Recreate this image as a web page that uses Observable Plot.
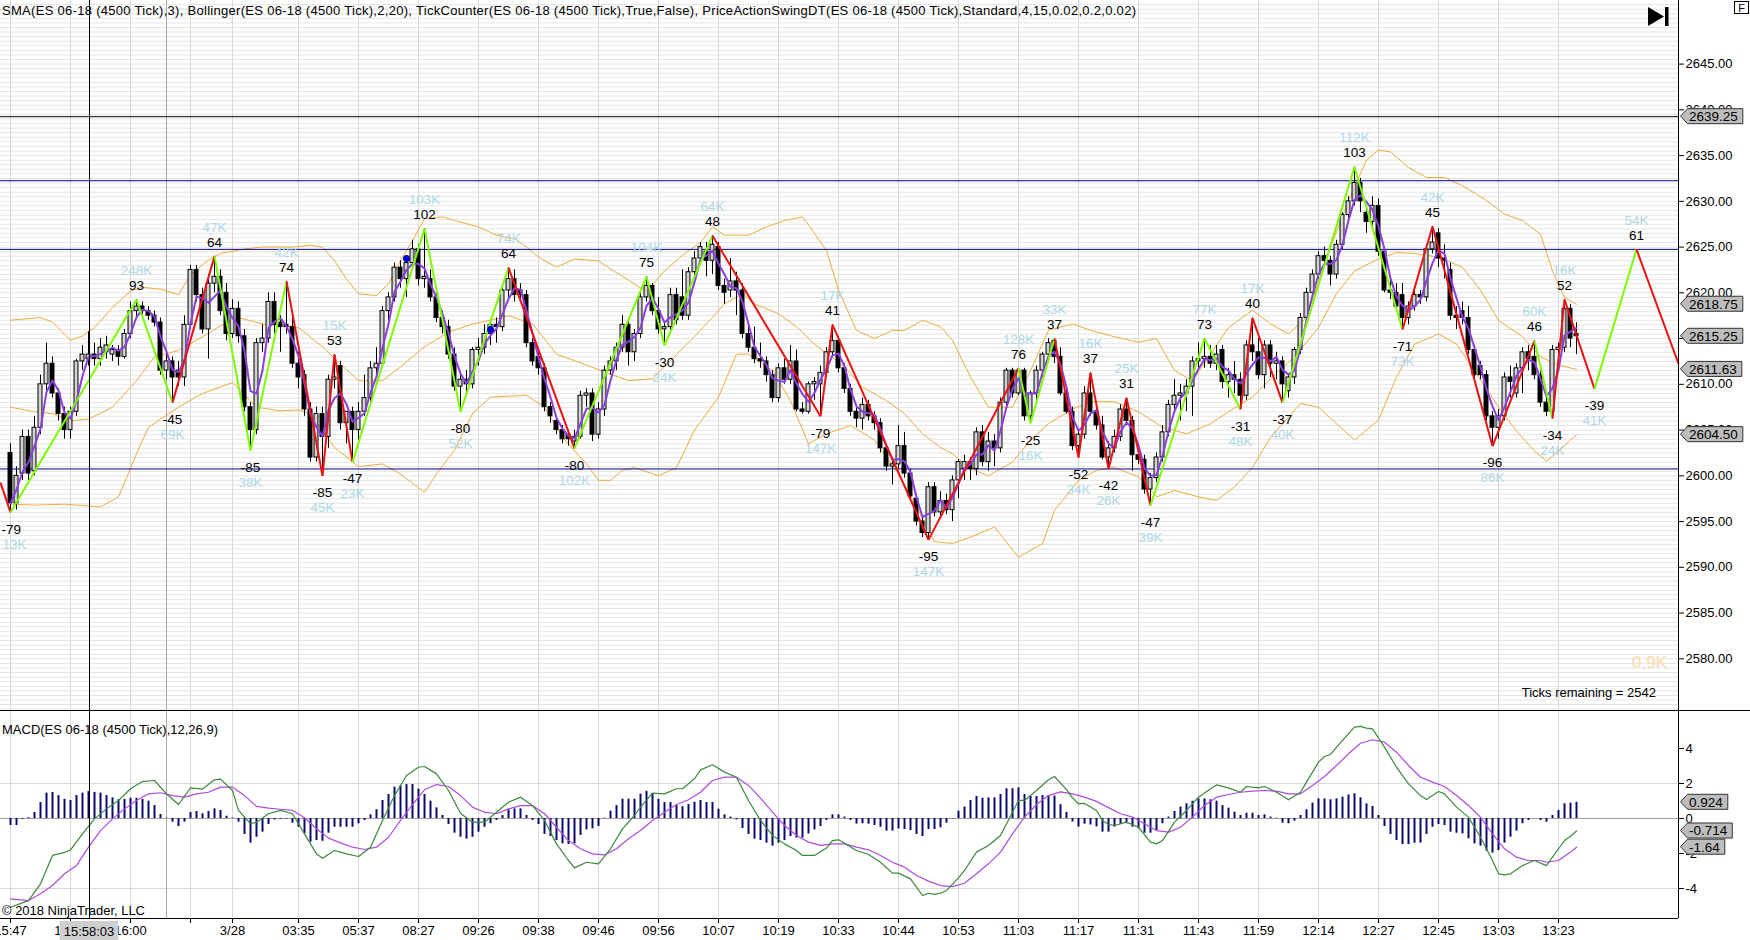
<!DOCTYPE html>
<html><head><meta charset="utf-8">
<script src="https://cdn.jsdelivr.net/npm/d3@7"></script>
<script src="https://cdn.jsdelivr.net/npm/@observablehq/plot@0.6"></script>
<style>
html,body{margin:0;padding:0;background:#fff;}
#wrap{position:relative;width:1750px;height:940px;overflow:hidden;font-family:"Liberation Sans",Arial,sans-serif;}
#main,#macd{position:absolute;left:0;}
#main{top:0}
#macd{top:710px}
#overlay{position:absolute;left:0;top:0;pointer-events:none}
</style></head><body>
<div id="wrap"><div id="main"></div><div id="macd"></div><svg id="overlay" width="1750" height="940"></svg></div>
<script>
// ---------- DATA ----------
const open = [
2602.5,2597,2600.25,2604.25,2600.5,2605.25,2610,2612.25,2609,2606.75,
2605,2607,2612.5,2612.75,2613.25,2612.75,2613.5,2613.25,2613.75,2613,
2615.5,2618,2618.5,2618,2617.5,2616.75,2611.5,2612.5,2611.5,2610.75,
2616.5,2622.5,2619.75,2616,2621,2621.75,2620,2615.5,2618.25,2615.25,
2607.5,2605,2614.5,2615,2619,2616.75,2616.5,2616.25,2612.25,2611,
2607.25,2602,2606.75,2604.25,2610.5,2612,2605.75,2607,2605,2607,
2608.5,2611.75,2612.25,2618,2619.5,2622.75,2621.5,2623.25,2624.75,2621.5,
2621.5,2619.5,2617.25,2616.25,2613.25,2609.75,2610.5,2610,2613.75,2614,
2615.5,2616.5,2616.25,2620.25,2621.5,2620.25,2619.75,2614.5,2613,2611.75,
2607.5,2606,2605,2604.5,2603.75,2604.25,2608.75,2609,2604.5,2607.25,
2611.5,2612.5,2614,2616.5,2613.5,2615.5,2619.5,2620.75,2618,2616,
2616.25,2619.75,2619.5,2617.5,2622.25,2623.75,2624.5,2623.5,2625,2620.75,
2620.25,2621.25,2620.25,2615.5,2614,2612.75,2612.5,2611,2608.5,2611.75,
2610.5,2612.5,2607.25,2607,2610,2610,2611.25,2613.5,2614.75,2611.75,
2609.5,2607,2606.25,2607.75,2606.5,2605.75,2603,2601,2601.25,2603.25,
2600.25,2597.5,2595,2593.75,2598.75,2596,2597.25,2596.25,2599.5,2600.75,
2601.5,2600.75,2604.75,2601.5,2603.75,2603,2608,2611.5,2609,2611.5,
2606.5,2609,2611.5,2613.25,2614.75,2613,2609,2607,2603.25,2604.5,
2609,2607,2605.5,2602,2603,2604.25,2607.25,2606,2602.25,2601.75,
2598.5,2599.75,2602,2604.75,2607.75,2608.75,2609,2609.75,2612.5,2612.75,
2613,2612.25,2613.75,2610.25,2611,2610.5,2608.75,2614.25,2613.5,2611,
2614.25,2612.25,2612.5,2609.25,2610.75,2613.75,2617.25,2620,2622,2624,
2623.5,2622,2625.25,2628.5,2630,2632,2628.75,2627.75,2629.5,2624.5,
2620.25,2620,2619.75,2617.25,2618.5,2619.75,2619.5,2624.75,2626.5,2623.75,
2622.5,2617.5,2618,2617.25,2613.75,2612,2611,2606.5,2605.25,2606.5,
2610.75,2609,2611.75,2613.5,2613,2611,2608,2607,2613.75,2614,
2618.25,2615.5];
const high = [
2603.5,2601,2605,2605,2606.5,2611,2614.5,2613,2609.5,2607.5,
2607.5,2612.75,2614.25,2615.75,2614.5,2615,2615.25,2614.25,2614.25,2616,
2619,2619.25,2619,2618.5,2618,2617.25,2613.5,2613,2612.5,2617.5,
2623,2623,2620.5,2622,2624,2622.5,2621,2619.25,2619,2616,
2608,2615,2616.5,2620,2620,2617.5,2621.25,2617.5,2613.5,2611.5,
2608,2607.5,2607.5,2611,2613.25,2612.5,2607,2607.5,2608,2611,
2612.5,2614,2618.5,2620,2623.25,2623.5,2624,2625.75,2625.25,2627,
2622.5,2620,2618,2617,2614,2611,2611.5,2614,2615,2616.5,
2617,2617.25,2620.75,2622.75,2622.5,2621,2620.25,2615,2613.5,2612.25,
2608,2606.5,2605.5,2605,2605,2609.25,2609.5,2609.5,2608,2612,
2613,2614.5,2617.5,2617,2616,2620,2621.75,2621,2619.5,2616.75,
2620.5,2620.5,2622.5,2622.75,2624.5,2625.5,2625.5,2626.25,2625.5,2621.5,
2623.75,2622.25,2621,2616.5,2616.25,2614.5,2613,2611.5,2612.25,2612.75,
2614.25,2613.75,2608,2610.25,2610.75,2612,2614,2616.5,2615.25,2612.25,
2610,2607.75,2608.5,2608.25,2607,2606.25,2603.5,2602,2605.5,2604.75,
2600.75,2598,2595.5,2599.25,2599.25,2598.25,2598,2600,2601.75,2602.25,
2602,2605.25,2605.5,2604.75,2604.5,2608.5,2611.75,2611.75,2611.75,2611.75,
2609.25,2612,2613.5,2615,2615,2614,2609.5,2607.5,2605,2609.75,
2611.25,2607.5,2606.5,2603.75,2605,2607.75,2608.5,2606.5,2603,2602.25,
2600.25,2602.5,2605.5,2608.25,2610.5,2610,2610.5,2613,2614.5,2615,
2614.25,2614.25,2614.25,2611.75,2612.5,2611.25,2614.75,2617.25,2615,2614.75,
2614.75,2613.5,2613,2611,2614,2617.75,2620.5,2622.5,2624.5,2625,
2624,2625.75,2628.75,2630.5,2633.75,2632.5,2629.5,2630.5,2630.25,2625,
2621.5,2621,2621,2619,2620.5,2620.25,2625.25,2627.25,2627,2625.25,
2623.25,2618.5,2619,2618.5,2614.25,2612.5,2611.5,2607,2607.25,2611.25,
2612,2612.25,2614,2614.25,2614.75,2611.5,2608.5,2614.25,2614.5,2619.25,
2618.75,2616.75];
const low = [
2596,2596.25,2599.5,2599.5,2600,2604.5,2609,2608.5,2606,2604,
2604,2606.5,2611.5,2612,2612,2612,2612.75,2612.5,2612,2612.75,
2615,2617.25,2617.25,2617,2616.25,2611,2610.5,2608,2609.75,2609.75,
2616,2619,2615.5,2612.75,2620,2617.5,2614.75,2615,2614.5,2607,
2602.75,2604.5,2613.5,2614.5,2615.5,2613.5,2615.5,2611.75,2609.5,2606.5,
2601.5,2601.5,2600,2603,2609.5,2605,2603.5,2601.5,2603.5,2606.5,
2608,2611,2612,2617,2619,2620.5,2619.5,2622.5,2620.75,2620.5,
2619,2616.75,2615.5,2612.75,2609.25,2607,2609,2609.5,2612,2613.25,
2614.25,2614.5,2615.75,2619.5,2619,2619,2614,2612,2611,2607,
2605.75,2604.5,2603.5,2603.25,2603,2604,2607.5,2603.75,2604,2606.5,
2611,2611.5,2613.5,2612,2612.5,2615,2619,2617.5,2615.5,2614.25,
2615.5,2616.5,2617,2617,2621.5,2623,2621.75,2622,2620.25,2618.75,
2619.5,2617.5,2615,2613.5,2612.25,2611.75,2610.25,2608,2608,2610,
2610,2607,2606.75,2606.75,2608.25,2606.5,2610.75,2613,2611.25,2609,
2606.5,2605.25,2605,2606,2605,2602.5,2600.5,2599,2600.75,2599.75,
2597.25,2594.5,2593.25,2593,2595.5,2595.25,2595.75,2595,2597.5,2599.5,
2599.5,2600,2601,2600.5,2601,2602.5,2607.5,2608.5,2608.75,2606,
2605.75,2608,2610.75,2612.75,2612.25,2608.75,2606.75,2602.75,2602,2604,
2606.5,2605,2601.75,2600.75,2602.5,2603.75,2605.5,2600.5,2601.25,2598,
2596.75,2599.25,2601.5,2604.25,2607,2606,2607,2606.5,2611.5,2611.75,
2611.75,2611.5,2609.5,2608.5,2609,2607.25,2608.25,2612.5,2610.5,2609.5,
2610.75,2610.5,2608,2608.5,2610,2613.25,2616.5,2619.5,2621.5,2623,
2620.75,2621.5,2624.75,2628,2629.5,2628.75,2626.5,2627.25,2624,2620,
2619.25,2618,2616,2616.5,2618,2618.75,2619,2624.25,2622.75,2621.5,
2617,2616,2616.5,2613.25,2610.5,2610.5,2606,2603.25,2604,2606,
2608.5,2608.5,2609,2611.5,2610.5,2607.5,2606.5,2606.25,2613,2613.5,
2614,2613.25];
const close = [
2597,2600,2604.25,2600.25,2605.25,2610,2612.25,2609,2606.75,2605,
2607,2612.5,2613.25,2613.25,2612.75,2614,2614.25,2613.75,2613,2615.5,
2618,2618.5,2618,2617.5,2616.75,2611.5,2612.5,2610.75,2610.75,2616.5,
2622.5,2619.75,2616,2621,2621.75,2618,2615.5,2618.25,2615.25,2607.5,
2605,2614.5,2615,2619,2616.5,2616.25,2616.25,2612.25,2610.75,2607.25,
2602,2606.75,2604.25,2610.5,2610.75,2605.75,2607,2605,2607,2608.5,
2611.75,2612.25,2618,2619.5,2622.75,2621.5,2623.25,2624.75,2621.5,2621.75,
2619.5,2617.25,2616.25,2613.25,2609.75,2610.5,2610,2613.75,2614,2615.5,
2616.5,2616.25,2620.25,2621.5,2619.75,2619.75,2614.5,2612.5,2611.75,2607.5,
2606.5,2605,2604,2604,2604.25,2608.75,2609,2604.5,2607.25,2611.5,
2612.5,2614,2616.5,2613.5,2615.5,2619.5,2620.75,2618,2616,2616.25,
2619.75,2617,2617.5,2622.25,2623.75,2625,2623.5,2625.25,2620.75,2620,
2621.25,2620.25,2615.5,2614,2612.75,2612.5,2611,2608.5,2611.75,2610.5,
2612.5,2607.25,2607,2610,2610.25,2611.25,2613.5,2614.75,2611.75,2609.5,
2607,2606.25,2607.75,2606.5,2605.75,2603,2601,2601.25,2603.25,2600.25,
2597.75,2595,2593.75,2598.75,2596,2597.25,2596.25,2599.5,2601.5,2601.5,
2600.75,2604.75,2601.5,2603.75,2603,2608,2611.5,2609,2611.5,2606.5,
2609,2611.5,2613.25,2614.5,2613,2609,2607,2603.25,2604.5,2609,
2607,2605.5,2602,2603,2604.25,2607.25,2606,2602.25,2601.75,2598.5,
2599.75,2602,2604.75,2607.75,2608.75,2609,2609.75,2612.5,2612.75,2613,
2612.25,2613.25,2610.25,2611,2610.5,2608.75,2614.25,2613.5,2611,2614.25,
2612.25,2612.5,2610,2610.75,2613.75,2617.25,2620,2622,2624,2623.5,
2622,2625.25,2628.5,2630,2632,2630,2627.75,2629.5,2624.5,2620.25,
2620,2618.5,2617.25,2618.5,2619.75,2619.5,2624.75,2625.5,2623.75,2623.5,
2617.5,2617.25,2617.25,2613.75,2611,2611,2606.5,2605.25,2606.5,2610.75,
2610.25,2611.75,2613.5,2612.75,2611,2608,2607,2613.75,2614,2618.25,
2615,2615.25];

// Bollinger(20,2) bands: [bar, price]
const bbUpper = [[0,2617],[5,2617.3],[7,2616.8],[10,2614.8],[12,2615.3],[14,2616.2],[17,2618.4],[20,2620.2],[22,2620.6],[25,2620.4],[28,2619.8],[30,2622],[33,2623.6],[35,2624.3],[39,2624.8],[42,2625],[47,2625],[50,2625.2],[52,2625],[54,2623.5],[56,2621.5],[58,2619.9],[61,2619.7],[63,2621],[65,2623.5],[67,2625.7],[69,2628.1],[72,2628.3],[74,2627.9],[78,2627.2],[81,2626.3],[84,2625.9],[86,2625],[88,2623.9],[91,2622.8],[94,2623.7],[98,2623.5],[100,2622.6],[103,2621.4],[106,2620.1],[109,2622.4],[112,2624.1],[115,2625.5],[117,2627.2],[119,2626.3],[123,2626.3],[126,2627.2],[129,2627.9],[132,2628.3],[134,2626.5],[136,2624.6],[138,2620.3],[141,2615.9],[144,2615],[147,2615.9],[149,2615.9],[152,2617],[155,2616.3],[157,2614.8],[160,2610.8],[163,2607.5],[167,2607.5],[170,2611.5],[173,2615.9],[177,2616.6],[180,2615.9],[184,2615.2],[188,2614.6],[191,2615],[194,2611.5],[197,2610.4],[200,2613.3],[203,2616.2],[207,2618.1],[210,2616.6],[213,2615.5],[216,2617.3],[219,2623.2],[223,2630.1],[226,2634.5],[228,2635.6],[230,2635.4],[233,2633.7],[236,2632.6],[239,2632.6],[242,2631.7],[246,2630.1],[249,2628.6],[252,2627.9],[255,2626.4],[257,2622.4],[259,2619.5],[261,2618.75]];
const bbMiddle = [[0,2607.5],[4,2607],[7,2606.8],[10,2606],[13,2606.2],[17,2607.5],[21,2610.4],[24,2613],[28,2613.7],[32,2615.2],[35,2616.4],[38,2617.3],[42,2616.6],[45,2616.4],[48,2616.2],[52,2614.1],[55,2612.2],[58,2610.4],[62,2610.4],[65,2611.9],[69,2614.1],[73,2615.7],[77,2616.6],[80,2617],[83,2617.5],[87,2616.6],[91,2613.3],[96,2612.1],[100,2611.1],[103,2610.4],[107,2610.6],[110,2612.6],[114,2615.2],[117,2617.3],[119,2618.8],[122,2619.9],[124,2618.8],[128,2617.7],[131,2616.3],[134,2614.4],[139,2611.9],[142,2609.7],[146,2608.2],[149,2606.8],[152,2604.6],[155,2603.1],[157,2602.4],[160,2600.8],[163,2600],[167,2601.5],[170,2603.9],[173,2605.7],[177,2607.3],[180,2608.1],[184,2608.1],[188,2607],[192,2605.3],[196,2604.6],[200,2605.7],[203,2607],[207,2608.6],[210,2610.6],[214,2613],[218,2616.2],[221,2619.9],[224,2622.4],[228,2623.7],[231,2624.4],[234,2624.3],[238,2623.9],[242,2622.8],[245,2620.3],[248,2617],[252,2615.2],[255,2613],[258,2612.1],[261,2611.63]];
const bbLower = [[0,2596.9],[4,2596.8],[9,2596.9],[15,2596.6],[18,2597.7],[21,2602.4],[23,2605.3],[28,2607.5],[32,2609],[37,2610.2],[41,2607.5],[45,2607.1],[48,2607.2],[50,2606.8],[54,2603.1],[58,2601],[62,2601.3],[65,2600.2],[69,2598.2],[71,2600.2],[74,2602.8],[77,2606.8],[80,2608.6],[86,2608.8],[89,2607.5],[92,2604.2],[96,2601.3],[98,2599.5],[100,2599.5],[102,2600.6],[104,2600.9],[108,2600],[111,2600.9],[114,2605],[118,2608.6],[121,2613.3],[123,2613.3],[127,2611.5],[130,2608.2],[133,2603.5],[136,2604.6],[140,2605.5],[144,2603.9],[148,2600.2],[151,2596.6],[154,2592.8],[157,2592.6],[160,2593.3],[164,2594.4],[168,2591.1],[172,2592.6],[174,2596.2],[178,2599.5],[181,2600.6],[184,2600.9],[188,2599.9],[191,2597.7],[194,2598.4],[198,2597.7],[201,2597.3],[204,2598.8],[207,2600.9],[210,2604.2],[215,2607.9],[218,2607.5],[221,2605.7],[224,2603.9],[228,2606.1],[231,2610.8],[234,2614.4],[238,2615.5],[241,2614.4],[244,2611.5],[248,2607.5],[251,2604.9],[254,2602.7],[256,2601.6],[258,2602.7],[261,2604.5]];

// Swing pivots (PriceActionSwing)
const pivotBar   = [-1.67,0,21,27,34,40,46,52,54,57,69,75,83,94,106,109,117,135,137,153,168,170,174,178,180,183,186,190,199,205,207,212,224,232,237,247,254,257,259,264,271,278];
const pivotPrice = [2599.25,2596,2619.25,2608,2624,2602.75,2621.25,2600,2613.25,2601.5,2627,2607,2622.75,2603,2621.75,2614.25,2626.25,2606.5,2616.5,2593,2611.75,2605.75,2615,2602,2611.25,2600.75,2608.5,2596.75,2615,2607.25,2617.25,2608,2633.75,2616,2627.25,2603.25,2614.75,2606.25,2619.25,2609.5,2624.75,2612.25];
const pivotLabel = [null,-79,93,-45,64,-85,74,-85,53,-47,102,-80,64,-80,75,-30,48,-79,41,-95,76,-25,37,-52,37,-42,31,-47,73,-31,40,-37,103,-71,45,-96,46,-34,52,-39,61,null];
const pivotVolume = [null,"13K","248K","69K","47K","38K","42K","45K","15K","23K","103K","52K","74K","102K","104K","24K","64K","147K","17K","147K","128K","16K","33K","34K","16K","26K","25K","39K","77K","48K","17K","40K","112K","73K","42K","86K","60K","24K","16K","41K","54K",null];
const legTrend = ["down","up","up","down","up","up","down","down","down","up","up","up","down","up","up","up","down","down","down","down","up","up","down","down","down","down","down","up","up","down","down","up","up","down","down","down","up","down","down","up","down"];

const dotBars = [66, 80];
const dotPrices = [2623.75, 2616];

const blueLevels = [2632.25, 2624.75, 2600.75];
const blackLevels = [2639.25];
const priceMarkers = ["2639.25","2618.75","2615.25","2611.63","2604.50"];

// MACD(12,26,9)
const macdHist = [
-0.4,-0.4,-0.05,0.05,0.34,0.91,1.45,1.49,1.31,1.09,
1.03,1.31,1.45,1.54,1.49,1.45,1.31,1.18,1.07,1.09,
1.16,1.16,1.09,0.99,0.74,0.23,0.02,-0.21,-0.46,-0.21,
0.34,0.4,0.27,0.4,0.55,0.46,0.13,0.03,-0.21,-0.91,
-1.41,-1.07,-0.78,-0.34,-0.08,-0.04,-0.04,-0.27,-0.5,-0.88,
-1.35,-1.26,-1.3,-0.84,-0.5,-0.5,-0.5,-0.5,-0.3,-0.11,
0.21,0.5,1.03,1.37,1.79,1.87,1.94,1.94,1.68,1.37,
0.99,0.61,0.17,-0.34,-0.84,-1.07,-1.18,-1.07,-0.78,-0.5,
-0.3,-0.11,0.17,0.5,0.55,0.55,0.17,-0.11,-0.34,-0.91,
-1.03,-1.26,-1.45,-1.49,-1.45,-0.97,-0.65,-0.59,-0.46,0.02,
0.42,0.74,1.1,1.1,1.1,1.39,1.55,1.43,1.1,0.91,
0.91,0.74,0.67,0.8,0.93,1.03,0.91,0.91,0.53,0.21,
0.08,-0.08,-0.57,-0.91,-1.18,-1.26,-1.41,-1.58,-1.41,-1.26,
-1.03,-1.12,-1.12,-0.88,-0.65,-0.46,-0.11,0.21,0.21,0.08,
-0.11,-0.32,-0.3,-0.32,-0.4,-0.5,-0.72,-0.72,-0.59,-0.63,
-0.69,-0.91,-1.03,-0.63,-0.63,-0.53,-0.27,-0.02,0.42,0.65,
1.03,1.26,1.16,1.18,1.18,1.37,1.7,1.7,1.75,1.37,
1.26,1.26,1.31,1.3,1.28,0.79,0.35,-0.2,-0.49,-0.32,
-0.37,-0.48,-0.78,-0.78,-0.49,-0.34,-0.3,-0.5,-0.59,-0.84,
-0.84,-0.69,-0.3,0.08,0.4,0.65,0.84,0.99,1.12,1.12,
1.07,0.99,0.74,0.59,0.36,0.17,0.3,0.3,0.17,0.21,
0.08,0.02,-0.27,-0.3,-0.15,0.17,0.5,0.88,1.12,1.12,
1.07,1.12,1.22,1.35,1.41,1.18,0.84,0.69,0.17,-0.46,
-0.91,-1.26,-1.49,-1.49,-1.41,-1.41,-0.91,-0.5,-0.34,-0.4,
-0.78,-0.84,-0.88,-1.16,-1.45,-1.58,-1.87,-1.98,-1.83,-1.41,
-1.07,-0.72,-0.3,-0.11,0,-0.11,-0.21,0.17,0.46,0.84,
0.88,0.924];
const macdLine = [[0,-5.07],[3,-4.69],[5,-3.73],[7,-2.11],[9,-1.94],[10,-1.79],[12,-0.88],[14,-0.02],[16,0.55],[18,1.03],[20,1.7],[22,2.11],[24,2.17],[26,1.41],[28,0.8],[30,1.75],[32,1.68],[34,2.21],[35,2.25],[37,1.6],[38,0.46],[40,-0.3],[41,-0.21],[43,0.27],[45,0.46],[47,0.27],[49,-0.88],[51,-2.02],[52,-2.27],[54,-1.83],[56,-2.02],[58,-2.17],[60,-1.64],[62,-0.11],[64,1.31],[66,2.46],[68,2.93],[69,2.97],[71,2.55],[73,1.6],[75,0.3],[77,-0.21],[79,-0.21],[81,0.36],[83,0.93],[85,1.22],[87,0.74],[89,-0.11],[91,-1.45],[93,-2.4],[94,-2.82],[96,-2.5],[98,-2.59],[100,-1.73],[102,-0.59],[104,0.17],[105,0.65],[107,1.45],[109,1.41],[111,1.7],[112,1.7],[114,2.27],[115,2.78],[117,3.07],[119,2.65],[121,2.36],[123,1.03],[125,-0.11],[127,-0.97],[129,-1.45],[131,-1.83],[132,-2.11],[134,-2.11],[136,-1.68],[137,-1.26],[138,-1.22],[139,-1.41],[141,-1.83],[143,-2.06],[145,-2.5],[147,-3.12],[148,-3.12],[150,-3.45],[151,-3.92],[152,-4.4],[153,-4.27],[154,-4.34],[155,-4.27],[156,-4.11],[158,-3.39],[159,-2.97],[161,-1.92],[163,-1.54],[165,-0.97],[167,0.36],[168,1.03],[169,1.03],[171,1.6],[173,2.21],[174,2.4],[176,1.65],[177,1.18],[178,0.84],[179,0.86],[181,0.46],[182,-0.11],[183,-0.34],[184,-0.4],[186,-0.21],[188,-0.5],[190,-1.35],[191,-1.45],[192,-1.26],[194,-0.21],[196,0.46],[198,1.22],[200,1.7],[201,1.92],[203,1.75],[205,1.5],[206,1.83],[208,1.75],[209,1.83],[211,1.5],[213,1.07],[215,1.5],[216,2.08],[218,3.22],[219,3.54],[220,3.66],[222,4.46],[224,5.22],[225,5.26],[226,5.16],[227,5.12],[229,4.08],[231,2.93],[233,1.98],[235,1.31],[236,1.09],[238,1.54],[239,1.41],[241,0.65],[243,0.08],[245,-1.07],[247,-2.4],[248,-3.16],[249,-3.22],[250,-3.16],[252,-2.69],[254,-2.4],[256,-2.69],[257,-2.21],[258,-1.73],[259,-1.26],[260,-1.01],[261,-0.714]];
const signalLine = [[0,-4.59],[3,-4.69],[5,-4.3],[7,-3.83],[9,-3.16],[11,-2.69],[13,-1.64],[15,-0.69],[17,-0.02],[19,0.55],[21,1.03],[23,1.41],[25,1.47],[27,1.31],[29,1.22],[31,1.41],[33,1.5],[35,1.79],[37,1.79],[39,1.31],[41,0.69],[43,0.59],[45,0.53],[47,0.46],[49,0.04],[51,-0.59],[53,-1.12],[55,-1.39],[57,-1.64],[59,-1.77],[61,-1.64],[63,-1.07],[65,-0.11],[67,0.8],[69,1.64],[71,1.94],[73,1.83],[75,1.31],[77,0.65],[79,0.36],[81,0.27],[83,0.55],[85,0.74],[87,0.74],[89,0.27],[91,-0.5],[93,-1.26],[95,-1.73],[97,-2.02],[99,-2.08],[101,-1.73],[103,-1.16],[105,-0.69],[107,-0.11],[109,0.36],[111,0.8],[113,1.07],[115,1.5],[117,2.17],[119,2.36],[121,2.36],[123,1.89],[125,1.16],[127,0.36],[129,-0.4],[131,-0.97],[133,-1.35],[135,-1.54],[137,-1.45],[139,-1.45],[141,-1.64],[143,-1.79],[145,-2.11],[147,-2.5],[149,-2.78],[151,-3.26],[153,-3.58],[155,-3.83],[157,-3.89],[159,-3.7],[161,-3.16],[163,-2.59],[165,-1.92],[167,-0.88],[169,0.08],[171,0.8],[173,1.31],[175,1.52],[177,1.41],[179,1.22],[181,0.98],[183,0.62],[185,0.27],[187,0.08],[189,-0.3],[191,-0.69],[193,-0.78],[195,-0.5],[197,0.08],[199,0.74],[201,1.22],[203,1.37],[205,1.5],[207,1.56],[209,1.6],[211,1.56],[213,1.41],[215,1.41],[217,1.89],[219,2.4],[221,3.03],[223,3.7],[225,4.3],[227,4.5],[229,4.36],[231,3.79],[233,3.03],[235,2.36],[237,2.08],[239,1.83],[241,1.31],[243,0.74],[245,0.08],[247,-0.88],[249,-1.73],[251,-2.21],[253,-2.4],[255,-2.4],[256,-2.5],[258,-2.4],[260,-1.92],[261,-1.64]];
const macdMarkers = ["0.924","-0.714","-1.64"];

// Axis ticks
const priceTicks = [2580,2585,2590,2595,2600,2605,2610,2615,2620,2625,2630,2635,2640,2645];
const macdTicks = [4,2,0,-2,-4];
const macdGridLevels = [2,-4];
const timeTickBars = [0,10,20,30,37,48,58,68,78,88,98,108,118,128,138,148,158,168,178,188,198,208,218,228,238,248,258];
const timeTickLabels = ["15:47","15:52","16:00","","3/28","03:35","05:37","08:27","09:26","09:38","09:46","09:56","10:07","10:19","10:33","10:44","10:53","11:03","11:17","11:31","11:43","11:59","12:14","12:27","12:45","13:03","13:23"];
const sessionBreakBar = [26];
const crosshairBar = [13.17];
const crosshairLabel = "15:58:03";

// ---------- LAYOUT / STYLE ----------
const W = 1750, AXISX = 1678;
const xDomain = [-10/6, 278];
const FONT = '"Liberation Sans", Arial, Helvetica, sans-serif';
const UP = "#d3d3d3", DOWN = "#000000";
const trendColor = {up: "#7cfc00", down: "#ee1111"};

const bars = close.map((c, i) => ({i, o: open[i], h: high[i], l: low[i], c}));
const legs = legTrend.map((t, k) => ({x1: pivotBar[k], y1: pivotPrice[k], x2: pivotBar[k+1], y2: pivotPrice[k+1], color: trendColor[t]}));
const labelled = pivotBar.map((b, k) => ({b, p: pivotPrice[k], n: pivotLabel[k], v: pivotVolume[k]})).filter(d => d.n !== null);
const highs = labelled.filter(d => d.n > 0);
const edgeLows = labelled.filter(d => d.n < 0 && d.b <= 1);   // clamped to the left edge like the original
const lows = labelled.filter(d => d.n < 0 && d.b > 1);
const dots = dotBars.map((b, k) => ({b, p: dotPrices[k]}));
const hist = macdHist.map((v, i) => ({i, v}));
const tickLabelMap = new Map(timeTickBars.map((b, k) => [b, timeTickLabels[k]]));

const main = Plot.plot({
  width: W, height: 710,
  marginLeft: 0, marginRight: W - AXISX, marginTop: 0, marginBottom: 0,
  style: {fontFamily: FONT, fontSize: "13px", color: "black", background: "white", overflow: "visible"},
  color: {type: "identity"},
  x: {domain: xDomain, axis: null},
  y: {domain: [2574.35, 2651.95], axis: "right", ticks: priceTicks, tickFormat: d => d.toFixed(2), tickSize: 5, tickPadding: 2, label: null},
  marks: [
    Plot.ruleY(d3.range(2574.5, 2652, 0.5), {stroke: "#e4e4e4", strokeWidth: 1}),
    Plot.ruleX(timeTickBars, {stroke: "#d9d9d9"}),
    Plot.ruleX(sessionBreakBar, {stroke: "#a9a9a9"}),
    Plot.line(bbUpper, {x: d => d[0], y: d => d[1], stroke: "#f0aa3c", strokeWidth: 1}),
    Plot.line(bbMiddle, {x: d => d[0], y: d => d[1], stroke: "#f0aa3c", strokeWidth: 1}),
    Plot.line(bbLower, {x: d => d[0], y: d => d[1], stroke: "#f0aa3c", strokeWidth: 1}),
    Plot.ruleY(blueLevels, {stroke: "#00008b"}),
    Plot.ruleY(blackLevels, {stroke: "#000000"}),
    Plot.ruleX(bars, {x: "i", y1: "l", y2: "h", stroke: "#000"}),
    Plot.rect(bars, {x1: d => d.i - 0.33, x2: d => d.i + 0.33, y1: "o", y2: "c", fill: d => d.c >= d.o ? UP : DOWN, stroke: "#000", strokeWidth: 1}),
    Plot.line(bars, Plot.windowY({k: 3, anchor: "end"}, {x: "i", y: "c", stroke: "#8a3ee0", strokeWidth: 2})),
    Plot.link(legs, {x1: "x1", y1: "y1", x2: "x2", y2: "y2", stroke: "color", strokeWidth: 2}),
    Plot.dot(dots, {x: "b", y: "p", r: 3.5, fill: "#0000cd"}),
    Plot.text(highs, {x: "b", y: "p", text: d => String(d.n), dy: -14, fontSize: 13.5, fill: "#000", lineAnchor: "middle"}),
    Plot.text(highs, {x: "b", y: "p", text: "v", dy: -29, fontSize: 13.5, fill: "#add8e6", lineAnchor: "middle"}),
    Plot.text(lows, {x: "b", y: "p", text: d => String(d.n), dy: 17, fontSize: 13.5, fill: "#000", lineAnchor: "middle"}),
    Plot.text(lows, {x: "b", y: "p", text: "v", dy: 32, fontSize: 13.5, fill: "#add8e6", lineAnchor: "middle"}),
    Plot.text(edgeLows, {x: "b", y: "p", text: d => String(d.n), dy: 17, dx: -9, textAnchor: "start", fontSize: 13.5, fill: "#000", lineAnchor: "middle"}),
    Plot.text(edgeLows, {x: "b", y: "p", text: "v", dy: 32, dx: -8, textAnchor: "start", fontSize: 13.5, fill: "#add8e6", lineAnchor: "middle"}),
    Plot.ruleX(crosshairBar, {stroke: "#000"}),
    Plot.ruleX([xDomain[1]], {stroke: "#000"})
  ]
});
document.getElementById("main").appendChild(main);

const macd = Plot.plot({
  width: W, height: 230,
  marginLeft: 0, marginRight: W - AXISX, marginTop: 0, marginBottom: 22,
  style: {fontFamily: FONT, fontSize: "13px", color: "black", background: "white", overflow: "visible"},
  x: {domain: xDomain, ticks: timeTickBars, tickFormat: d => tickLabelMap.get(d) ?? "", tickSize: 5, tickPadding: 2, label: null},
  y: {domain: [-5.714, 6.171], axis: "right", ticks: macdTicks, tickFormat: d => String(d), tickSize: 5, tickPadding: 2, label: null},
  marks: [
    Plot.ruleY(macdGridLevels, {stroke: "#d9d9d9"}),
    Plot.ruleX(timeTickBars, {stroke: "#d9d9d9"}),
    Plot.ruleX(sessionBreakBar, {stroke: "#a9a9a9"}),
    Plot.ruleY([0], {stroke: "#a0a0a0"}),
    Plot.ruleX(hist, {x: "i", y1: 0, y2: "v", stroke: "#0a0a6e", strokeWidth: 2}),
    Plot.line(signalLine, {x: d => d[0], y: d => d[1], stroke: "#b04ae0", strokeWidth: 1.2}),
    Plot.line(macdLine, {x: d => d[0], y: d => d[1], stroke: "#3a8a3a", strokeWidth: 1.2}),
    Plot.ruleX(crosshairBar, {stroke: "#000"}),
    Plot.ruleX([xDomain[1]], {stroke: "#000"}),
    Plot.ruleY([-5.714], {stroke: "#000"})
  ]
});
document.getElementById("macd").appendChild(macd);

// ---------- OVERLAY (labels, markers, chrome) ----------
const ov = d3.select("#overlay").style("font-family", FONT);
const ys = main.scale("y"), xs = main.scale("x"), ym = macd.scale("y");

ov.append("line").attr("x1", 0).attr("x2", W).attr("y1", 710.5).attr("y2", 710.5).attr("stroke", "#000");

function marker(label, y) {
  const g = ov.append("g");
  const poly = g.append("polygon");
  const t = g.append("text").attr("x", 1689).attr("y", y + 4.8).attr("font-size", 13.5).attr("fill", "#000").text(label);
  const w = t.node().getComputedTextLength();
  const r = 1689 + w + 5, x0 = 1680.5;
  poly.attr("points", `${x0},${y} ${x0+7},${y-7.5} ${r},${y-7.5} ${r},${y+7.5} ${x0+7},${y+7.5}`)
      .attr("fill", "#bdbdbd").attr("stroke", "#333").attr("stroke-width", 1);
}
priceMarkers.forEach(s => marker(s, ys.apply(+s)));
macdMarkers.forEach(s => marker(s, 710 + ym.apply(+s)));

// crosshair time label
const cx = xs.apply(crosshairBar[0]);
const cg = ov.append("g");
const crect = cg.append("rect");
const tl = cg.append("text").attr("x", cx).attr("y", 936).attr("text-anchor", "middle").attr("font-size", 13).text(crosshairLabel);
const tw = tl.node().getComputedTextLength();
crect.attr("x", cx - tw/2 - 4).attr("y", 921).attr("width", tw + 8).attr("height", 19).attr("fill", "#cfcfcf");

// header / captions
ov.append("text").attr("x", 2).attr("y", 15).attr("font-size", 13).attr("textLength", 1134).attr("lengthAdjust", "spacing")
  .text("SMA(ES 06-18 (4500 Tick),3),  Bollinger(ES 06-18 (4500 Tick),2,20),  TickCounter(ES 06-18 (4500 Tick),True,False),  PriceActionSwingDT(ES 06-18 (4500 Tick),Standard,4,15,0.02,0.2,0.02)");
ov.append("text").attr("x", 2).attr("y", 734).attr("font-size", 13).attr("textLength", 216).attr("lengthAdjust", "spacing")
  .text("MACD(ES 06-18 (4500 Tick),12,26,9)");
ov.append("text").attr("x", 2).attr("y", 915).attr("font-size", 13).attr("textLength", 143).attr("lengthAdjust", "spacing")
  .text("© 2018 NinjaTrader, LLC");
ov.append("text").attr("x", 1656).attr("y", 697).attr("font-size", 13).attr("text-anchor", "end").text("Ticks remaining = 2542");
ov.append("text").attr("x", 1667).attr("y", 668).attr("font-size", 17).attr("text-anchor", "end").attr("fill", "#fbd9a8").text("0,9K");

// play-to-end icon and F box
ov.append("polygon").attr("points", "1648,7 1664,16.5 1648,26").attr("fill", "#000");
ov.append("rect").attr("x", 1665).attr("y", 7).attr("width", 3.5).attr("height", 19).attr("fill", "#000");
ov.append("rect").attr("x", 1734.5).attr("y", 1.5).attr("width", 14).attr("height", 12).attr("fill", "#fff").attr("stroke", "#000");
ov.append("text").attr("x", 1741.5).attr("y", 12).attr("font-size", 11).attr("text-anchor", "middle").text("F");
</script>
</body></html>
